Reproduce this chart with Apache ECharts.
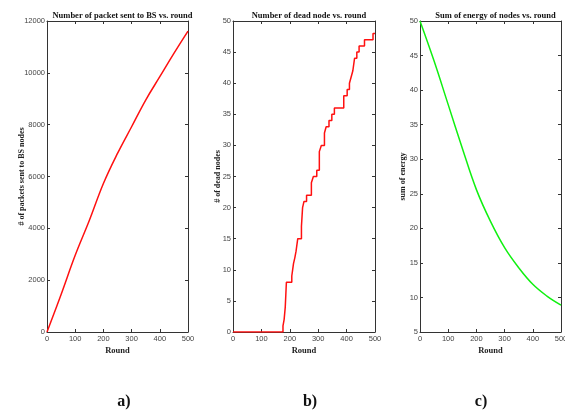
<!DOCTYPE html>
<html>
<head>
<meta charset="utf-8">
<script src="https://cdn.jsdelivr.net/npm/echarts@6/dist/echarts.min.js"></script>
<style>
  html, body { margin: 0; padding: 0; background: #fff; }
  #chart { width: 565px; height: 411px; }
</style>
</head>
<body>
<div id="chart"></div>
<script>
// Rounds sampled for the two smooth curves
const rounds = [0, 50, 100, 150, 200, 250, 300, 350, 400, 450, 500];
// a) cumulative packets sent to the base station
const packets = [0, 1450, 2960, 4300, 5730, 6890, 7920, 8950, 9850, 10750, 11610];
// c) total residual energy of all nodes
const energy = [50, 44.2, 37.9, 31.6, 25.6, 21.0, 17.2, 14.3, 11.9, 10.2, 8.9];
// b) dead-node count: round at which each new count is reached
const deadRounds = [0, 176, 180, 184, 186, 188, 207, 210, 213, 218, 222, 228, 241, 245, 250, 259, 276, 283, 295, 304, 311, 322, 328, 338, 348, 357, 390, 402, 410, 416, 422, 428, 436, 444, 463, 493, 500];
const deadCount  = [0, 1, 2, 4, 6, 8, 9, 10, 11, 12, 13, 15, 17, 20, 21, 22, 24, 25, 26, 29, 30, 32, 33, 34, 35, 36, 38, 39, 40, 41, 42, 44, 45, 46, 47, 48, 48];

const titles = ['Number of packet sent to BS vs. round', 'Number of dead node vs. round', 'Sum of energy of nodes vs. round'];
const yNames = ['# of packets sent to BS nodes', '# of dead nodes', 'sum of energy'];
const panelTags = ['a)', 'b)', 'c)'];
const xTicks = { min: 0, max: 500, interval: 100 };
const yRanges = [
  { min: 0, max: 12000, interval: 2000 },
  { min: 0, max: 50, interval: 5 },
  { min: 5, max: 50, interval: 5 }
];

const zip = (xs, ys) => xs.map((x, i) => [x, ys[i]]);

const serif = "'Liberation Serif', 'DejaVu Serif', serif";
const narrow = "'Liberation Sans Narrow', 'Liberation Sans', Arial, sans-serif";
const frame = '#333';
const plain = v => String(v);

const grids = [
  { left: 47, top: 21, width: 141, height: 311, outerBoundsMode: 'none', containLabel: false },
  { left: 233, top: 21, width: 142, height: 311, outerBoundsMode: 'none', containLabel: false },
  { left: 420, top: 21, width: 141, height: 311, outerBoundsMode: 'none', containLabel: false }
];
const yNameGaps = [21, 11, 13];

const xAxes = [], yAxes = [];
grids.forEach((g, i) => {
  // bottom axis with labels
  xAxes.push({
    type: 'value', gridIndex: i, ...xTicks,
    name: 'Round', nameLocation: 'middle', nameGap: 14, nameMoveOverlap: false,
    nameTextStyle: { fontFamily: serif, fontWeight: 'bold', fontSize: 8.5, color: '#222' },
    axisLine: { show: true, onZero: false, lineStyle: { color: frame, width: 1 } },
    axisTick: { show: true, inside: true, length: 3, lineStyle: { color: frame } },
    axisLabel: { fontFamily: narrow, fontSize: 7.5, color: '#444', margin: 3, formatter: plain },
    splitLine: { show: false }
  });
  // top axis: ticks only, closes the box
  xAxes.push({
    type: 'value', gridIndex: i, position: 'top', ...xTicks,
    axisLine: { show: true, onZero: false, lineStyle: { color: frame, width: 1 } },
    axisTick: { show: true, inside: true, length: 3, lineStyle: { color: frame } },
    axisLabel: { show: false },
    splitLine: { show: false }
  });
  yAxes.push({
    type: 'value', gridIndex: i, ...yRanges[i],
    name: yNames[i], nameLocation: 'middle', nameGap: yNameGaps[i], nameMoveOverlap: false,
    nameTextStyle: { fontFamily: serif, fontWeight: 'bold', fontSize: 8, color: '#222' },
    axisLine: { show: true, onZero: false, lineStyle: { color: frame, width: 1 } },
    axisTick: { show: true, inside: true, length: 3, lineStyle: { color: frame } },
    axisLabel: { fontFamily: narrow, fontSize: 7.5, color: '#444', margin: 2, formatter: plain },
    splitLine: { show: false }
  });
  // right axis: ticks only
  yAxes.push({
    type: 'value', gridIndex: i, position: 'right', ...yRanges[i],
    axisLine: { show: true, onZero: false, lineStyle: { color: frame, width: 1 } },
    axisTick: { show: true, inside: true, length: 3, lineStyle: { color: frame } },
    axisLabel: { show: false },
    splitLine: { show: false }
  });
});

const titleItems = [];
grids.forEach((g, i) => {
  titleItems.push({
    text: titles[i], left: g.left + g.width / 2, top: 6, textAlign: 'center',
    textStyle: { fontFamily: serif, fontWeight: 'bold', fontSize: 8.5, color: '#111' }
  });
});
const tagX = [119, 305, 476];
panelTags.forEach((t, i) => {
  titleItems.push({
    text: t, left: tagX[i], top: 389, textAlign: 'center',
    textStyle: { fontFamily: serif, fontWeight: 'bold', fontSize: 16, color: '#111' }
  });
});

const chart = echarts.init(document.getElementById('chart'), null, { renderer: 'canvas' });
chart.setOption({
  animation: false,
  backgroundColor: '#fff',
  title: titleItems,
  grid: grids,
  xAxis: xAxes,
  yAxis: yAxes,
  series: [
    {
      type: 'line', xAxisIndex: 0, yAxisIndex: 0, data: zip(rounds, packets),
      smooth: 0.4, showSymbol: false, lineStyle: { color: '#ff1010', width: 1.5 }
    },
    {
      type: 'line', xAxisIndex: 2, yAxisIndex: 2, data: zip(deadRounds, deadCount),
      step: 'end', showSymbol: false, lineStyle: { color: '#ff1010', width: 1.5 }
    },
    {
      type: 'line', xAxisIndex: 4, yAxisIndex: 4, data: zip(rounds, energy),
      smooth: 0.4, showSymbol: false, lineStyle: { color: '#10f010', width: 1.5 }
    }
  ]
});
</script>
</body>
</html>
